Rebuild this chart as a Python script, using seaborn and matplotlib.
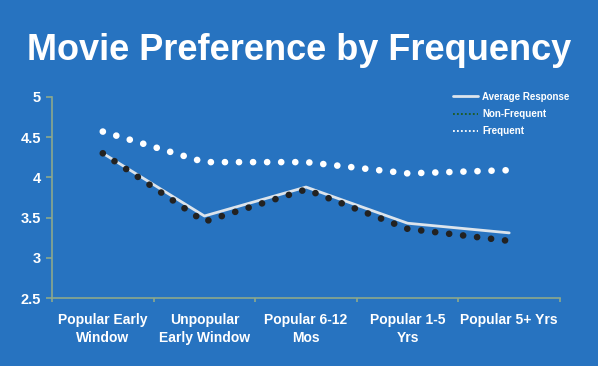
import pandas as pd
import matplotlib
matplotlib.use('Agg')
import matplotlib.pyplot as plt
from matplotlib.lines import Line2D
import seaborn as sns

# Values
categories = ['Popular Early\nWindow', 'Unpopular\nEarly Window', 'Popular 6-12\nMos',
              'Popular 1-5\nYrs', 'Popular 5+ Yrs']
average_response = [4.30, 3.52, 3.88, 3.43, 3.31]
non_frequent = [4.30, 3.45, 3.85, 3.36, 3.21]
frequent = [4.57, 4.19, 4.19, 4.05, 4.09]
y_ticks = [2.5, 3, 3.5, 4, 4.5, 5]

BG = '#2773C0'
SPINE = '#8DA88C'

sns.set_style('white')
plt.rcParams['font.family'] = ['Liberation Sans', 'DejaVu Sans']

df = pd.DataFrame({
    'Category': categories,
    'Average Response': average_response,
    'Non-Frequent': non_frequent,
    'Frequent': frequent,
})

fig = plt.figure(figsize=(5.98, 3.66), dpi=100, facecolor=BG)
ax = fig.add_axes([52 / 598, 1 - 298 / 366, 508 / 598, 201 / 366])
ax.set_facecolor(BG)

# series
sns.lineplot(data=df, x='Category', y='Average Response', ax=ax,
             color='#DCE4EC', linewidth=2.0, sort=False)
sns.lineplot(data=df, x='Category', y='Non-Frequent', ax=ax,
             color='#222222', linewidth=4.8, sort=False)
sns.lineplot(data=df, x='Category', y='Frequent', ax=ax,
             color='white', linewidth=4.8, sort=False)

# round dotted look for the two groups
for ln in ax.lines[1:]:
    ln.set_linestyle((0, (0.01, 2.1)))
    ln.set_dash_capstyle('round')

ax.set_xlim(-0.5, 4.5)
ax.set_ylim(2.5, 5)
ax.set_yticks(y_ticks)
ax.set_yticklabels([f'{t:g}' for t in y_ticks])
ax.set_xticks([i - 0.5 for i in range(6)], minor=False)
ax.set_xticklabels([])
ax.set_xticks(range(5), minor=True)
ax.set_xticklabels(categories, minor=True, linespacing=1.3)
ax.set_xlabel('')
ax.set_ylabel('')

for s in ['top', 'right']:
    ax.spines[s].set_visible(False)
for s in ['left', 'bottom']:
    ax.spines[s].set_color(SPINE)
    ax.spines[s].set_linewidth(1.2)

ax.tick_params(axis='y', which='major', direction='out', length=4, width=1.2,
               color=SPINE, labelcolor='white', labelsize=10.5, pad=4, left=True)
ax.tick_params(axis='x', which='major', direction='out', length=3, width=1.2,
               color=SPINE, bottom=True)
ax.tick_params(axis='x', which='minor', length=0, labelcolor='white',
               labelsize=10, pad=11)
for lab in ax.get_yticklabels() + ax.get_xticklabels(minor=True):
    lab.set_fontweight('bold')

# legend
handles = [
    Line2D([], [], color='#DCE4EC', linewidth=2),
    Line2D([], [], color='#1E5A1E', linewidth=1.3, linestyle=(0, (1, 1.2))),
    Line2D([], [], color='white', linewidth=1.3, linestyle=(0, (1, 1.2))),
]
leg = ax.legend(handles, ['Average Response', 'Non-Frequent', 'Frequent'],
                loc='upper left', bbox_to_anchor=(392 / 508, 1.07), frameon=False,
                handlelength=2.6, handletextpad=0.4, labelspacing=0.75,
                prop={'size': 7, 'weight': 'bold'})
for t in leg.get_texts():
    t.set_color('white')

fig.text(0.5, 1 - 50 / 366, 'Movie Preference by Frequency', color='white',
         fontsize=26, fontweight='bold', ha='center', va='center')

fig.savefig('out.png', dpi=100, facecolor=BG)
